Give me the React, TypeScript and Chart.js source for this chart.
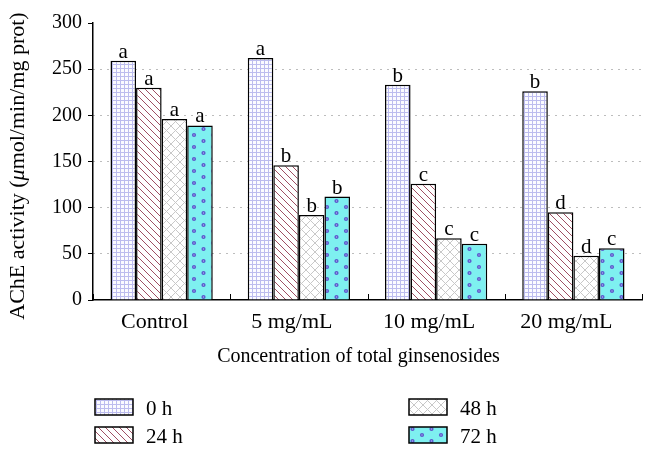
import { useEffect, useRef } from "react";
import { Chart, registerables } from "chart.js";
Chart.register(...registerables);

const categories = ["Control", "5 mg/mL", "10 mg/mL", "20 mg/mL"];
const seriesLabels = ["0 h", "24 h", "48 h", "72 h"];
const values0h = [259, 262, 233, 226];
const values24h = [230, 146, 126, 95];
const values48h = [196, 92, 67, 48];
const values72h = [189, 112, 61, 56];
const letters0h = ["a", "a", "b", "b"];
const letters24h = ["a", "b", "c", "d"];
const letters48h = ["a", "b", "c", "d"];
const letters72h = ["a", "b", "c", "c"];
const yMin = 0;
const yMax = 300;
const yStep = 50;
const xTitle = "Concentration of total ginsenosides";
const yTitleBefore = "AChE activity (";
const yTitleItalic = "\u03bc";
const yTitleAfter = "mol/min/mg prot)";

const FONT = "Liberation Serif, Times New Roman, serif";

function tile(w: number, h: number, draw: (c: CanvasRenderingContext2D) => void) {
  const cv = document.createElement("canvas");
  cv.width = w;
  cv.height = h;
  const c = cv.getContext("2d")!;
  draw(c);
  return cv;
}

function makePatterns(ctx: CanvasRenderingContext2D) {
  const grid = tile(4, 4, (c) => {
    c.fillStyle = "#fbfbff";
    c.fillRect(0, 0, 4, 4);
    c.fillStyle = "#bcbcee";
    c.fillRect(0, 0, 4, 1);
    c.fillRect(0, 0, 1, 4);
  });
  const diag = tile(7, 7, (c) => {
    c.fillStyle = "#ffffff";
    c.fillRect(0, 0, 7, 7);
    c.strokeStyle = "#a04f63";
    c.lineWidth = 1;
    c.beginPath();
    c.moveTo(-1, -1);
    c.lineTo(8, 8);
    c.moveTo(-1, 6);
    c.lineTo(1, 8);
    c.moveTo(6, -1);
    c.lineTo(8, 1);
    c.stroke();
  });
  const cross = tile(9, 9, (c) => {
    c.fillStyle = "#ffffff";
    c.fillRect(0, 0, 9, 9);
    c.strokeStyle = "#c8c8c8";
    c.lineWidth = 1;
    c.beginPath();
    c.moveTo(-1, -1);
    c.lineTo(10, 10);
    c.moveTo(-1, 10);
    c.lineTo(10, -1);
    c.stroke();
  });
  const dots = tile(19, 12, (c) => {
    c.fillStyle = "#7ef0f0";
    c.fillRect(0, 0, 19, 12);
    const pts = [
      [4, 3],
      [13.5, 9],
    ];
    for (const [x, y] of pts) {
      c.fillStyle = "#5a5acc";
      c.beginPath();
      c.arc(x, y, 2.1, 0, Math.PI * 2);
      c.fill();
      c.fillStyle = "#b0b0f0";
      c.beginPath();
      c.arc(x, y, 0.7, 0, Math.PI * 2);
      c.fill();
    }
  });
  return [grid, diag, cross, dots].map((t) => ctx.createPattern(t, "repeat")!);
}

const letterSets = [letters0h, letters24h, letters48h, letters72h];

const overlay = {
  id: "overlay",
  afterDatasetsDraw(chart: any) {
    const ctx = chart.ctx as CanvasRenderingContext2D;
    ctx.save();
    ctx.fillStyle = "#000";
    ctx.font = `21px ${FONT}`;
    ctx.textAlign = "center";
    ctx.textBaseline = "alphabetic";
    chart.data.datasets.forEach((ds: any, di: number) => {
      const meta = chart.getDatasetMeta(di);
      meta.data.forEach((bar: any, i: number) => {
        ctx.fillText(letterSets[di][i], bar.x, bar.y - 3);
      });
    });
    ctx.restore();
  },
  afterDraw(chart: any) {
    const ctx = chart.ctx as CanvasRenderingContext2D;
    const area = chart.chartArea;
    const xs = chart.scales.x;
    ctx.save();
    // inward category ticks on x axis
    ctx.strokeStyle = "#000";
    ctx.lineWidth = 1;
    const n = categories.length;
    for (let i = 0; i <= n; i++) {
      const x = Math.round(area.left + ((area.right - area.left) * i) / n) + 0.5;
      ctx.beginPath();
      ctx.moveTo(x, area.bottom);
      ctx.lineTo(x, area.bottom - 6);
      ctx.stroke();
    }
    // x title
    ctx.fillStyle = "#000";
    ctx.font = `20px ${FONT}`;
    ctx.textAlign = "center";
    ctx.textBaseline = "alphabetic";
    ctx.fillText(xTitle, (xs.left + xs.right) / 2 - 9, 362);
    // y title
    ctx.save();
    ctx.translate(24, 166);
    ctx.rotate(-Math.PI / 2);
    ctx.textAlign = "left";
    const fN = `22px ${FONT}`;
    const fI = `italic 22px ${FONT}`;
    ctx.font = fN;
    const w1 = ctx.measureText(yTitleBefore).width;
    const w3 = ctx.measureText(yTitleAfter).width;
    ctx.font = fI;
    const w2 = ctx.measureText(yTitleItalic).width;
    let x = -(w1 + w2 + w3) / 2;
    ctx.font = fN;
    ctx.fillText(yTitleBefore, x, 0);
    x += w1;
    ctx.font = fI;
    ctx.fillText(yTitleItalic, x, 0);
    x += w2;
    ctx.font = fN;
    ctx.fillText(yTitleAfter, x, 0);
    ctx.restore();
    // legend (two columns, column-major)
    const slots = [
      [95, 399],
      [95, 427],
      [409, 399],
      [409, 427],
    ];
    chart.data.datasets.forEach((ds: any, di: number) => {
      const [lx, ly] = slots[di];
      ctx.fillStyle = ds.backgroundColor;
      ctx.fillRect(lx, ly, 38, 16);
      ctx.strokeStyle = "#000";
      ctx.lineWidth = 1.5;
      ctx.strokeRect(lx, ly, 38, 16);
      ctx.fillStyle = "#000";
      ctx.font = `21px ${FONT}`;
      ctx.textAlign = "left";
      ctx.textBaseline = "alphabetic";
      ctx.fillText(ds.label, lx + 51, ly + 16);
    });
    ctx.restore();
  },
};

export default function App() {
  const ref = useRef<HTMLCanvasElement>(null);
  useEffect(() => {
    const canvas = ref.current!;
    const ctx = canvas.getContext("2d")!;
    const pats = makePatterns(ctx);
    const seriesValues = [values0h, values24h, values48h, values72h];
    const chart = new Chart(canvas, {
      type: "bar",
      data: {
        labels: categories,
        datasets: seriesValues.map((vals, i) => ({
          label: seriesLabels[i],
          data: vals,
          backgroundColor: pats[i] as any,
          borderColor: "#000",
          borderWidth: 1.5,
          categoryPercentage: 0.745,
          barPercentage: 1,
        })),
      },
      options: {
        responsive: false,
        animation: false,
        devicePixelRatio: 1,
        layout: { padding: { left: 0, right: 14, top: 23, bottom: 0 } },
        plugins: {
          legend: { display: false },
          tooltip: { enabled: false },
          title: { display: false },
        },
        scales: {
          x: {
            type: "category",
            grid: { display: false, drawTicks: false },
            border: { display: true, color: "#000", width: 1.5 },
            ticks: {
              color: "#000",
              font: { family: FONT, size: 22 },
              padding: 9,
              labelOffset: -7,
              maxRotation: 0,
            },
            afterFit: (s: any) => {
              s.height = 157;
            },
          },
          y: {
            min: yMin,
            max: yMax,
            ticks: {
              stepSize: yStep,
              color: "#000",
              font: { family: FONT, size: 20 },
              padding: 6,
            },
            grid: {
              color: (c: any) =>
                c.tick && (c.tick.value === yMin || c.tick.value === yMax) ? "rgba(0,0,0,0)" : "#7a7a7a",
              lineWidth: 1,
              drawTicks: true,
              tickLength: 5,
              tickColor: "#000",
              tickWidth: 1,
            },
            border: { display: true, color: "#000", width: 1.5, dash: [1, 6] },
            afterFit: (s: any) => {
              s.width = 93;
            },
          },
        },
      },
      plugins: [overlay],
    });
    return () => chart.destroy();
  }, []);
  return (
    <div style={{ position: "fixed", left: 0, top: 0, width: 656, height: 457, background: "#fff" }}>
      <canvas ref={ref} width={656} height={457} />
    </div>
  );
}
